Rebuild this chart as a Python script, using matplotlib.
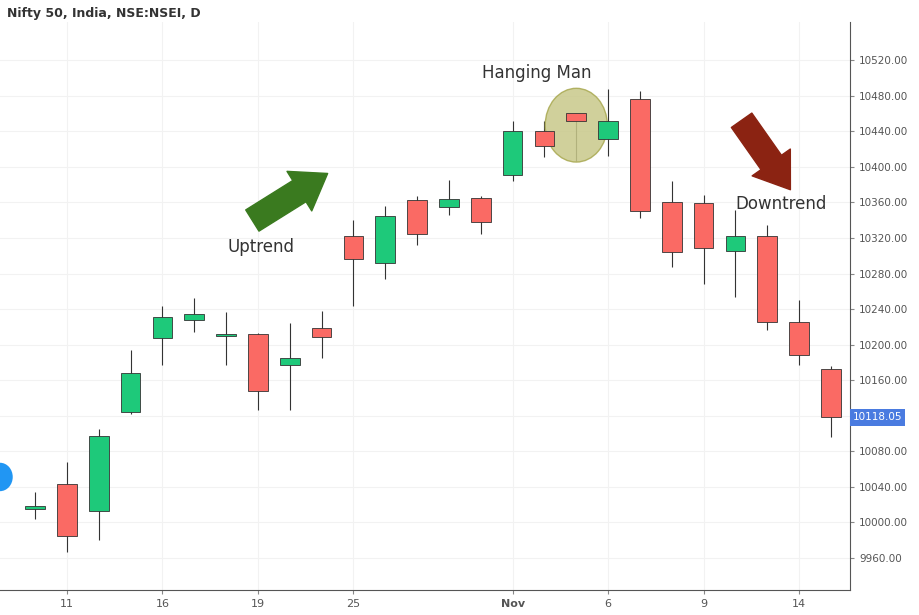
import matplotlib.pyplot as plt
from matplotlib.patches import Ellipse, Rectangle
import numpy as np

# OHLC data (one candle per trading day)
opens  = [10015, 10043, 10013, 10124, 10207, 10228, 10210, 10212, 10177, 10219, 10322, 10292, 10363,
          10355, 10365, 10391, 10440, 10461, 10432, 10476, 10361, 10359, 10305, 10322, 10225, 10172]
closes = [10018, 9985, 10097, 10168, 10231, 10234, 10211, 10148, 10185, 10208, 10296, 10345, 10324,
          10364, 10338, 10440, 10424, 10452, 10452, 10350, 10304, 10309, 10322, 10225, 10188, 10118]
highs  = [10034, 10068, 10105, 10194, 10243, 10252, 10237, 10213, 10224, 10238, 10340, 10356, 10367,
          10385, 10367, 10452, 10452, 10461, 10488, 10486, 10384, 10368, 10351, 10335, 10250, 10176]
lows   = [10004, 9967, 9980, 10122, 10177, 10214, 10177, 10126, 10126, 10185, 10243, 10274, 10312,
          10346, 10325, 10384, 10411, 10407, 10412, 10342, 10287, 10268, 10254, 10217, 10177, 10096]
tick_pos = [1, 4, 7, 10, 15, 18, 21, 24]
tick_labels = ['11', '16', '19', '25', 'Nov', '6', '9', '14']
last_price = 10118.05

green = '#1ec97a'
red = '#fa6a64'

fig = plt.figure(figsize=(9.2, 6.15), dpi=100)
ax = fig.add_axes([0.0, 0.041, 0.924, 0.923])

x = np.arange(len(opens))
w = 0.62
for i in x:
    o, c, h, l = opens[i], closes[i], highs[i], lows[i]
    col = green if c >= o else red
    ax.vlines(i, l, h, color='#333333', linewidth=0.8, zorder=2)
    bot = min(o, c)
    ht = max(abs(c - o), 1.5)
    ax.add_patch(Rectangle((i - w / 2, bot), w, ht, facecolor=col,
                           edgecolor='#333333', linewidth=0.6, zorder=3))

ax.set_xlim(-1.1, 25.6)
ax.set_ylim(9924, 10563)

ax.yaxis.tick_right()
yt = list(range(9960, 10521, 40))
ax.set_yticks(yt)
# the 10120 label sits under the last-price tag
ax.set_yticklabels(['' if v == 10120 else f'{v:.2f}' for v in yt], fontsize=7.5, color='#555555')
ax.set_xticks(tick_pos)
ax.set_xticklabels(tick_labels, fontsize=8, color='#555555')
for lab in ax.get_xticklabels():
    if lab.get_text() == 'Nov':
        lab.set_fontweight('bold')
ax.tick_params(length=3, color='#888888')
ax.grid(True, color='#f2f2f2', linewidth=0.8)
ax.set_axisbelow(True)
for s in ['top', 'left']:
    ax.spines[s].set_visible(False)
ax.spines['right'].set_color('#555555')
ax.spines['bottom'].set_color('#555555')

# last price label
ax.text(1.003, (last_price - 9924) / (10563 - 9924), f'{last_price:.2f}', transform=ax.transAxes,
        fontsize=7.5, color='white', va='center', ha='left',
        bbox=dict(boxstyle='square,pad=0.3', facecolor='#4a7be0', edgecolor='none'), clip_on=False)

# annotations
ax.add_patch(Ellipse((17, 10447), 1.95, 83, facecolor='#c8c88a', edgecolor='#a8a850',
                     alpha=0.85, linewidth=1, zorder=2))
ax.text(14.05, 10500, 'Hanging Man', fontsize=12, color='#333333')
ax.text(6.05, 10304, 'Uptrend', fontsize=12, color='#333333')
ax.text(22.0, 10353, 'Downtrend', fontsize=12, color='#333333')

ax.annotate('', xy=(330, 443), xytext=(250, 393), xycoords='figure pixels',
            arrowprops=dict(arrowstyle='simple,head_width=1.4,head_length=1.0,tail_width=0.75',
                            mutation_scale=24, color='#3a7a1f'))
ax.annotate('', xy=(792, 423), xytext=(740, 497), xycoords='figure pixels',
            arrowprops=dict(arrowstyle='simple,head_width=1.4,head_length=1.0,tail_width=0.75',
                            mutation_scale=24, color='#8b2312'))

# left edge marker
ax.add_patch(Ellipse((-1.1, 10051), 0.8, 32, facecolor='#2196f3', edgecolor='none', clip_on=True))

fig.text(0.008, 0.978, 'Nifty 50, India, NSE:NSEI, D', fontsize=9, color='#333333',
         fontweight='bold', va='center')

plt.savefig('out.png', dpi=100, facecolor='white')
